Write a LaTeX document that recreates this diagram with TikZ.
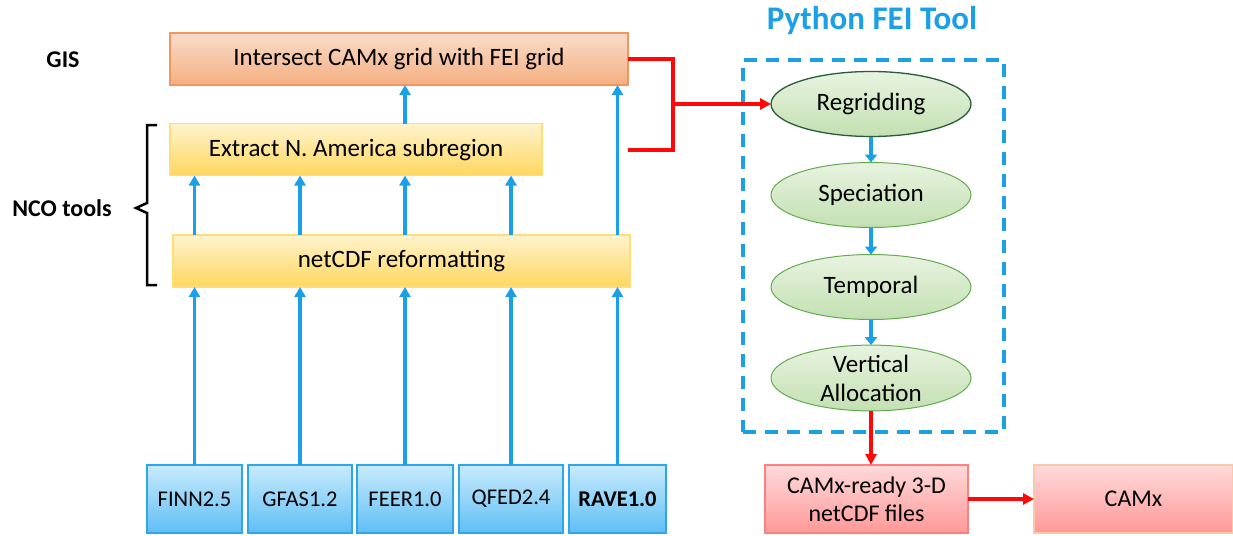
\documentclass[tikz,border=0pt]{standalone}
\usepackage{fontspec}
\setmainfont{Carlito}
\usetikzlibrary{arrows.meta,shapes.geometric}
\definecolor{abl}{RGB}{27,160,232}
\definecolor{rd}{RGB}{255,8,8}
\definecolor{gisT}{RGB}{250,220,202}
\definecolor{gisB}{RGB}{244,175,128}
\definecolor{gisD}{RGB}{241,150,92}
\definecolor{yelT}{RGB}{255,243,205}
\definecolor{yelB}{RGB}{255,215,95}
\definecolor{yelD}{RGB}{255,222,120}
\definecolor{srcT}{RGB}{200,235,252}
\definecolor{srcB}{RGB}{95,190,245}
\definecolor{srcD}{RGB}{45,166,236}
\definecolor{grT}{RGB}{232,243,224}
\definecolor{grB}{RGB}{195,224,178}
\definecolor{grD}{RGB}{100,170,80}
\definecolor{grDD}{RGB}{40,90,60}
\definecolor{pkT}{RGB}{255,218,218}
\definecolor{pkB}{RGB}{255,152,152}
\definecolor{pkD}{RGB}{255,128,128}
\definecolor{pkO}{RGB}{250,200,170}
\tikzset{
  every node/.style={inner sep=0pt,outer sep=0pt,font=\fontsize{25}{30}\selectfont},
  gisbox/.style={draw=gisD,line width=1.2pt,top color=gisT,bottom color=gisB,minimum height=52pt},
  yelbox/.style={draw=yelD,line width=1.2pt,top color=yelT,bottom color=yelB,minimum height=52pt},
  srcbox/.style={draw=srcD,line width=1.2pt,top color=srcT,bottom color=srcB,minimum height=68pt,font=\fontsize{22.5}{27}\selectfont},
  ell/.style={ellipse,draw=grD,line width=1pt,top color=grT,bottom color=grB,minimum width=200pt,minimum height=65pt,align=center},
  pkbox/.style={draw=pkD,line width=1.2pt,top color=pkT,bottom color=pkB,minimum height=68pt,align=center,font=\fontsize{24}{28}\selectfont},
  barrow/.style={draw=abl,line width=3.2pt,-{Triangle[width=11pt,length=10pt]}},
  sarrow/.style={draw=abl,line width=3.5pt,-{Triangle[width=12pt,length=8pt]}},
  rline/.style={draw=rd,line width=3.5pt},
  rarrow/.style={draw=rd,line width=3.5pt,-{Triangle[width=11pt,length=11pt]}},
  lbl/.style={font=\fontsize{24}{28}\selectfont\bfseries}
}
\begin{document}
\begin{tikzpicture}[x=1pt,y=-1pt]
\useasboundingbox (0,0) rectangle (1233,535);
% left labels
\node[lbl] (gislbl) at (63,60) {GIS};
\node[lbl] (ncolbl) at (62,208) {NCO tools};
\draw[line width=2.5pt,line join=miter] (157,125) -- (147,125) -- (147,203) -- (136,208) -- (147,213) -- (147,285) -- (157,285);
% boxes
\node[gisbox,minimum width=458pt] (gis) at (399,59) {Intersect CAMx grid with FEI grid};
\node[yelbox,minimum width=372pt] (ext) at (356,149.5) {Extract N. America subregion};
\node[yelbox,minimum width=457pt] (net) at (401.5,261) {netCDF reformatting};
\node[srcbox,minimum width=95pt] (finn) at (194.5,499) {FINN2.5};
\node[srcbox,minimum width=104pt] (gfas) at (300,499) {GFAS1.2};
\node[srcbox,minimum width=96pt] (feer) at (405,499) {FEER1.0};
\node[srcbox,minimum width=104pt] (qfed) at (511,499) {QFED2.4};
\node[srcbox,minimum width=97pt,line width=2.5pt,font=\fontsize{22.5}{27}\selectfont\bfseries] (rave) at (617.5,499) {RAVE1.0};
% blue arrows
\foreach \s in {finn,gfas,feer,qfed,rave}{
  \draw[barrow] (\s.north) -- (net.south -| \s.north);
}
\foreach \s in {finn,gfas,feer,qfed}{
  \draw[barrow] (net.north -| \s.north) -- (ext.south -| \s.north);
}
\draw[barrow] (net.north -| rave.north) -- (gis.south -| rave.north);
\draw[barrow] (ext.north -| feer.north) -- (gis.south -| feer.north);
% Python FEI tool
\node[font=\fontsize{33}{38}\selectfont\bfseries,text=abl] (title) at (872,21) {Python FEI Tool};
\node[draw=abl,line width=3.5pt,dash pattern=on 13pt off 9pt,minimum width=261pt,minimum height=372pt] (fei) at (873.5,246) {};
\node[ell,draw=grDD,line width=1.3pt] (reg) at (871,104) {Regridding};
\node[ell] (spe) at (871,195) {Speciation};
\node[ell] (tem) at (871,287) {Temporal};
\node[ell,font=\fontsize{25}{29}\selectfont] (ver) at (871,378) {Vertical\\Allocation};
\draw[sarrow] (reg) -- (spe);
\draw[sarrow] (spe) -- (tem);
\draw[sarrow] (tem) -- (ver);
% red connectors
\coordinate (jt) at (673,59);
\coordinate (jb) at (673,150);
\coordinate (je) at (628,150);
\coordinate (jm) at (673,104);
\draw[rline,line join=miter] (gis.east) -- (jt) -- (jb) -- (je);
\draw[rarrow] (jm) -- (reg.west);
\node[pkbox,minimum width=203pt] (ready) at (866.5,499) {CAMx-ready 3-D\\netCDF files};
\node[pkbox,draw=pkO,minimum width=199pt,font=\fontsize{24}{28}\selectfont] (camx) at (1133.5,499) {CAMx};
\draw[rarrow] (ver.south) -- (ver.south |- ready.north);
\draw[rarrow] (ready.east) -- (camx.west);
\end{tikzpicture}
\end{document}
